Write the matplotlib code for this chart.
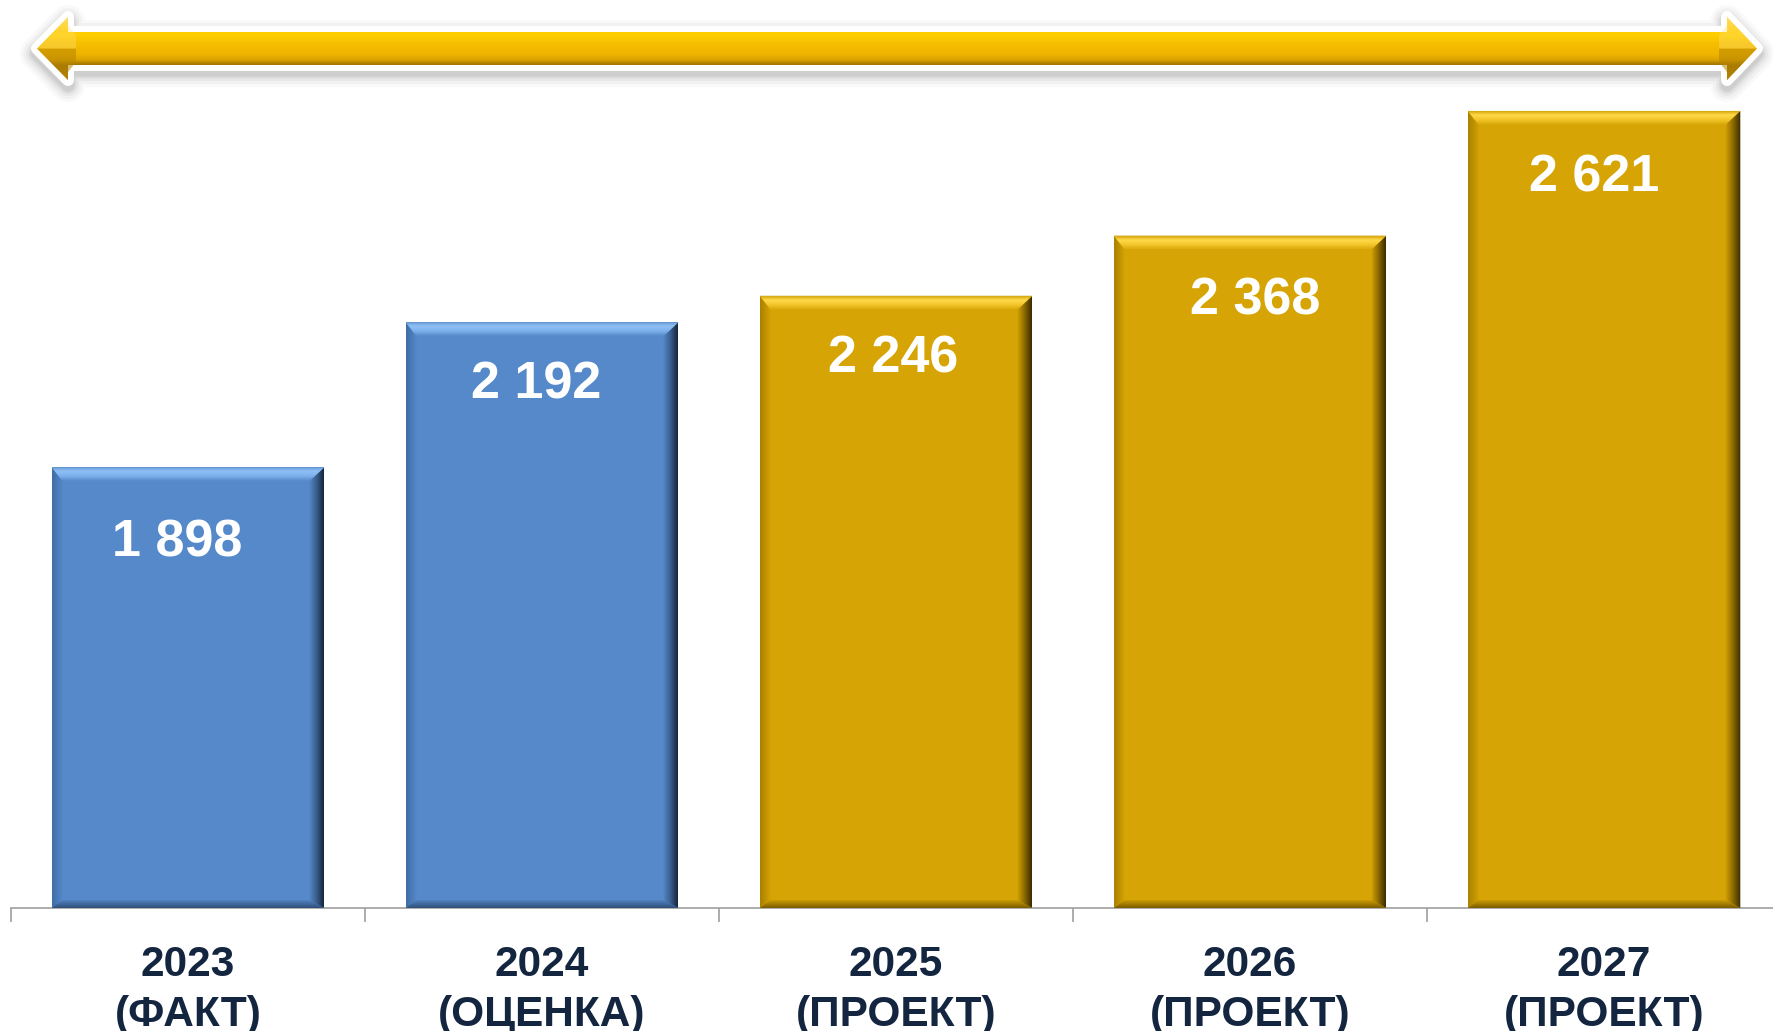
import numpy as np
import matplotlib
matplotlib.use('Agg')
import matplotlib.pyplot as plt
from matplotlib.patches import Polygon
from matplotlib.colors import to_rgb

# ---------------- data ----------------
categories = ['2023\n(ФАКТ)', '2024\n(ОЦЕНКА)', '2025\n(ПРОЕКТ)', '2026\n(ПРОЕКТ)', '2027\n(ПРОЕКТ)']
values = [1898, 2192, 2246, 2368, 2621]
value_labels = ['1 898', '2 192', '2 246', '2 368', '2 621']
kinds = ['fact', 'fact', 'plan', 'plan', 'plan']

# label placement (pixel offsets from bar top centre)
label_dx = [-11, -6, -3, 5, -10]
label_dy = [-76, -63, -63, -65, -67]

# ---------------- style ----------------
plt.rcParams['font.family'] = ['Liberation Sans', 'DejaVu Sans']
palette = {
    'fact': dict(fill='#5589CA', top=['#5589CA', '#7DB0EC', '#8EC0F6', '#5F8FC8'],
                 right=['#5589CA', '#3A5F8E', '#15253A'], left=['#3F6CA5', '#5589CA'],
                 bottom=['#2F4F78', '#5589CA']),
    'plan': dict(fill='#D6A405', top=['#D6A405', '#F2C428', '#FFD94A', '#C99A00'],
                 right=['#D6A405', '#8C6A00', '#3A2900'], left=['#A98000', '#D6A405'],
                 bottom=['#7A5C00', '#D6A405']),
}

W, H = 1773, 1031
fig = plt.figure(figsize=(W / 100, H / 100), dpi=100)
fig.patch.set_facecolor('white')


def grad_poly(ax, verts, colors, horizontal, z):
    verts = np.asarray(verts, float)
    x0, x1 = verts[:, 0].min(), verts[:, 0].max()
    y0, y1 = verts[:, 1].min(), verts[:, 1].max()
    n = 128
    stops = np.linspace(0, 1, len(colors))
    rgb = np.array([to_rgb(c) for c in colors])
    t = np.linspace(0, 1, n)
    cols = np.stack([np.interp(t, stops, rgb[:, k]) for k in range(3)], axis=1)
    img = cols[None, :, :] if horizontal else cols[:, None, :]
    im = ax.imshow(img, extent=(x0, x1, y0, y1), origin='lower', aspect='auto',
                   interpolation='bilinear', zorder=z)
    poly = Polygon(verts, closed=True, facecolor='none', edgecolor='none',
                   transform=ax.transData)
    im.set_clip_path(poly)
    return im


# ---------------- top arrow (overlay in pixel coords) ----------------
ov = fig.add_axes([0, 0, 1, 1], zorder=0)
ov.set_xlim(0, W)
ov.set_ylim(H, 0)
ov.axis('off')
cy = 48.5
pts = np.array([(37, cy), (68, 17), (68, 32), (1727, 32), (1727, 17), (1757, cy),
                (1727, 80), (1727, 65), (68, 65), (68, 80)])
# soft shadow
for lw, a in [(34, 0.025), (28, 0.03), (22, 0.04), (17, 0.05), (13, 0.06)]:
    sh = Polygon(pts + np.array([0, 5]), closed=True, facecolor=(0, 0, 0, a),
                 edgecolor=(0, 0, 0, a), lw=lw * 0.72, joinstyle='round')
    ov.add_patch(sh)
# white outline
ov.add_patch(Polygon(pts, closed=True, facecolor='white', edgecolor='white',
                     lw=12 * 0.72, joinstyle='round'))
# gold gradient body
arrow_cols_y = [17, 32, 34, 44, 54, 60, 64, 66, 80]
arrow_cols = ['#FFD84A', '#FFCC00', '#FFD000', '#F6BE00', '#F0B400', '#D9A200', '#A87B00', '#9A7000', '#B08000']
n = 200
yy = np.linspace(17, 80, n)
rgb = np.array([to_rgb(c) for c in arrow_cols])
cols = np.stack([np.interp(yy, arrow_cols_y, rgb[:, k]) for k in range(3)], axis=1)
img = cols[:, None, :]
im = ov.imshow(img, extent=(37, 1757, 80, 17), origin='upper', aspect='auto',
               interpolation='bilinear', zorder=3)
clip = Polygon(pts, closed=True, facecolor='none', edgecolor='none', transform=ov.transData)
im.set_clip_path(clip)
# head facets
for (tipx, basex) in [(37, 68), (1757, 1727)]:
    inner = basex + (8 if tipx < basex else -8)
    facet = np.array([(tipx, cy), (basex, 80), (basex, 72), (inner, 62), (inner, cy)])
    ov.add_patch(Polygon(facet, closed=True, facecolor='#B88600', edgecolor='none', alpha=0.55, zorder=4))
    facet2 = np.array([(tipx, cy), (basex, 17), (basex, 25), (inner, 35), (inner, cy)])
    ov.add_patch(Polygon(facet2, closed=True, facecolor='#FFE27A', edgecolor='none', alpha=0.35, zorder=4))
ov.set_xlim(0, W)
ov.set_ylim(H, 0)

# ---------------- bar chart ----------------
ax = fig.add_axes([11 / W, 1 - 908 / H, 1770 / W, 908 / H], zorder=2)
ax.patch.set_alpha(0)
XLIM = (-0.5, 4.5)
YLIM = (1004, 2846)
ax.set_xlim(*XLIM)
ax.set_ylim(*YLIM)

x = np.arange(len(values))
fills = [palette[k]['fill'] for k in kinds]
bars = ax.bar(x, values, width=0.77, color=fills, linewidth=0, zorder=2)

sx = ax.transData.transform((1, 0))[0] - ax.transData.transform((0, 0))[0]
sy = ax.transData.transform((0, 1))[1] - ax.transData.transform((0, 0))[1]
bw_r, bw_l, bh_t, bh_b = 15 / sx, 11 / sx, 14 / sy, 8 / sy

for b, k in zip(bars, kinds):
    p = palette[k]
    L = b.get_x()
    R = L + b.get_width()
    top = b.get_height() + b.get_y()
    bot = YLIM[0]
    grad_poly(ax, [(L, top), (L + bw_l, top - bh_t), (L + bw_l, bot + bh_b), (L, bot)],
              p['left'], True, 3)
    grad_poly(ax, [(R - bw_r, top - bh_t), (R, top), (R, bot), (R - bw_r, bot + bh_b)],
              p['right'], True, 3)
    grad_poly(ax, [(L, top), (R, top), (R - bw_r, top - bh_t), (L + bw_l, top - bh_t)],
              p['top'], False, 3.5)
    grad_poly(ax, [(L, bot), (R, bot), (R - bw_r, bot + bh_b), (L + bw_l, bot + bh_b)],
              p['bottom'], False, 3.2)

for xi, v, lab, dx, dy in zip(x, values, value_labels, label_dx, label_dy):
    ax.annotate(lab, (xi, v), xytext=(dx * 0.72, dy * 0.72), textcoords='offset points',
                ha='center', va='center', color='white', fontsize=37.5,
                fontweight='bold', zorder=6)

ax.set_xlim(*XLIM)
ax.set_ylim(*YLIM)

for s in ['left', 'right', 'top']:
    ax.spines[s].set_visible(False)
ax.spines['bottom'].set_color('#A6A6A6')
ax.spines['bottom'].set_linewidth(1.3)
ax.yaxis.set_visible(False)
ax.set_xticks(np.arange(-0.5, 5.0, 1.0))
ax.set_xticklabels([''] * 6)
ax.tick_params(axis='x', which='major', length=10, width=1.3, color='#A6A6A6', direction='out')
ax.set_xticks(x, minor=True)
ax.set_xticklabels(categories, minor=True)
ax.tick_params(axis='x', which='minor', length=0, pad=27, labelsize=30.5, labelcolor='#14263F')
for t in ax.get_xticklabels(minor=True):
    t.set_fontweight('bold')
    t.set_linespacing(1.3)

fig.savefig('out.png', dpi=100, facecolor='white')
